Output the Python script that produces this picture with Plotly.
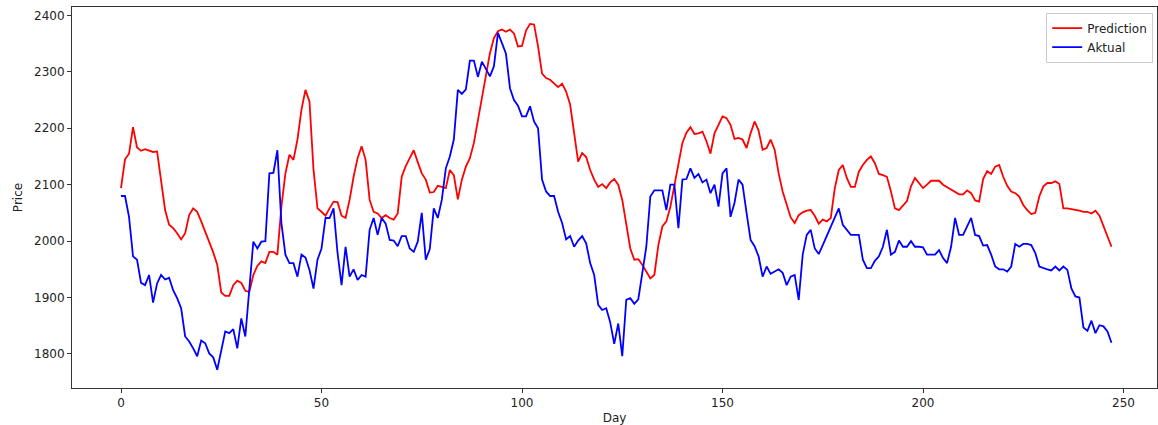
import plotly.graph_objects as go

# Daily price series: model prediction vs. actual ("Aktual")
prediction = [
    2094, 2145, 2155, 2202, 2166, 2160, 2163, 2160, 2158, 2159,
    2109, 2055, 2029, 2023, 2014, 2003, 2014, 2046, 2058, 2052,
    2035, 2017, 2001, 1980, 1958, 1909, 1903, 1903, 1922, 1930,
    1926, 1912, 1910, 1940, 1956, 1964, 1961, 1981, 1981, 1976,
    2061, 2120, 2153, 2144, 2180, 2233, 2268, 2247, 2127, 2058,
    2052, 2045, 2058, 2070, 2069, 2045, 2041, 2073, 2114, 2147,
    2168, 2144, 2073, 2052, 2049, 2041, 2046, 2041, 2038, 2049,
    2114, 2133, 2147, 2161, 2140, 2120, 2109, 2086, 2087, 2098,
    2096, 2094, 2126, 2117, 2074, 2109, 2132, 2147, 2174, 2215,
    2256, 2297, 2333, 2360, 2372, 2375, 2371, 2375, 2368, 2345,
    2346, 2373, 2385, 2384, 2345, 2297, 2289, 2286, 2280, 2273,
    2279, 2265, 2242, 2191, 2141, 2156, 2149, 2126, 2109, 2096,
    2101, 2094, 2104, 2110, 2100, 2073, 2026, 1987, 1967, 1968,
    1958, 1946, 1934, 1940, 1993, 2026, 2035, 2061, 2097, 2138,
    2174, 2192, 2202, 2190, 2191, 2194, 2177, 2155, 2191, 2206,
    2221, 2218, 2206, 2181, 2183, 2180, 2165, 2191, 2212, 2196,
    2162, 2165, 2180, 2162, 2120, 2088, 2067, 2042, 2032, 2046,
    2051, 2054, 2055, 2045, 2031, 2038, 2035, 2041, 2094, 2126,
    2135, 2112, 2096, 2096, 2123, 2135, 2144, 2150, 2138, 2119,
    2117, 2114, 2088, 2058, 2055, 2064, 2071, 2097, 2112, 2103,
    2094, 2100, 2107, 2107, 2107, 2100, 2096, 2092, 2088, 2083,
    2083, 2090, 2085, 2072, 2070, 2110, 2124, 2119, 2132, 2135,
    2114, 2098, 2088, 2085, 2079, 2064, 2055, 2048, 2050, 2079,
    2097, 2103, 2103, 2106, 2101, 2058, 2058, 2057, 2055, 2054,
    2052, 2052, 2049, 2054, 2045, 2026, 2008, 1990,
]

aktual = [
    2080, 2080, 2043, 1973, 1967, 1926, 1922, 1940, 1891, 1925,
    1940, 1932, 1935, 1913, 1899, 1881, 1831, 1822, 1810, 1796,
    1824, 1819, 1801, 1794, 1772, 1807, 1840, 1837, 1844, 1810,
    1863, 1831, 1908, 1999, 1987, 1999, 2000, 2120, 2121, 2161,
    2032, 1976, 1961, 1961, 1937, 1976, 1971, 1949, 1916, 1967,
    1987, 2041, 2041, 2058, 1979, 1922, 1990, 1937, 1950, 1931,
    1940, 1937, 2020, 2041, 2011, 2041, 2031, 2002, 2001, 1991,
    2009, 2009, 1987, 1981, 1999, 2050, 1967, 1986, 2058, 2041,
    2073, 2129, 2150, 2180, 2268, 2261, 2269, 2320, 2320, 2291,
    2318, 2305, 2292, 2310, 2369, 2351, 2332, 2271, 2250, 2240,
    2221, 2221, 2239, 2212, 2200, 2109, 2088, 2080, 2080, 2052,
    2032, 2003, 2009, 1990, 2001, 2009, 1996, 1961, 1940, 1887,
    1878, 1881, 1856, 1818, 1854, 1796, 1896, 1899, 1889, 1897,
    1946, 1990, 2079, 2090, 2090, 2090, 2055, 2100, 2100, 2023,
    2109, 2110, 2129, 2112, 2119, 2104, 2109, 2085, 2100, 2061,
    2120, 2129, 2043, 2068, 2109, 2100, 2050, 2002, 1991, 1973,
    1937, 1955, 1942, 1946, 1950, 1944, 1922, 1937, 1940, 1896,
    1976, 2011, 2020, 1987, 1977, 1993, 2009, 2027, 2041, 2058,
    2029, 2020, 2011, 2011, 2011, 1967, 1952, 1952, 1965, 1973,
    1990, 2020, 1976, 1981, 2001, 1990, 1990, 2000, 1990, 1990,
    1989, 1976, 1976, 1976, 1984, 1970, 1961, 1990, 2041, 2011,
    2011, 2026, 2041, 2011, 2009, 1992, 1993, 1976, 1955, 1950,
    1950, 1946, 1955, 1995, 1990, 1995, 1995, 1993, 1979, 1955,
    1952, 1950, 1948, 1955, 1948, 1955, 1949, 1916, 1902, 1900,
    1847, 1841, 1859, 1837, 1851, 1849, 1840, 1820,
]

days = list(range(len(prediction)))
x_ticks = [0, 50, 100, 150, 200, 250]
y_ticks = [1800, 1900, 2000, 2100, 2200, 2300, 2400]

font = "DejaVu Sans, sans-serif"

fig = go.Figure()
fig.add_trace(go.Scatter(x=days, y=prediction, mode="lines", name="Prediction",
                         line=dict(color="#ff0000", width=1.8)))
fig.add_trace(go.Scatter(x=days, y=aktual, mode="lines", name="Aktual",
                         line=dict(color="#0000ff", width=1.8)))

axis_common = dict(
    showgrid=False, zeroline=False,
    showline=True, linecolor="#333333", linewidth=1, mirror=True,
    ticks="outside", ticklen=4, tickwidth=1, tickcolor="#333333",
    tickfont=dict(family=font, size=12, color="#222222"),
)

fig.update_layout(
    width=1158, height=425,
    margin=dict(l=72, r=1, t=7, b=37),
    paper_bgcolor="white", plot_bgcolor="white",
    font=dict(family=font, size=12, color="#222222"),
    showlegend=True,
    legend=dict(
        x=0.9965, y=0.985, xanchor="right", yanchor="top",
        bgcolor="rgba(255,255,255,0.8)", bordercolor="#cccccc", borderwidth=1,
        font=dict(family=font, size=12, color="#222222"),
        itemwidth=30, tracegroupgap=0,
    ),
    xaxis=dict(axis_common, range=[-12.22, 258.35], tickvals=x_ticks,
               title=dict(text="Day", font=dict(family=font, size=12), standoff=4)),
    yaxis=dict(axis_common, range=[1739.7, 2414.9], tickvals=y_ticks,
               title=dict(text="Price", font=dict(family=font, size=12), standoff=8)),
)

fig.write_html("out.html")
